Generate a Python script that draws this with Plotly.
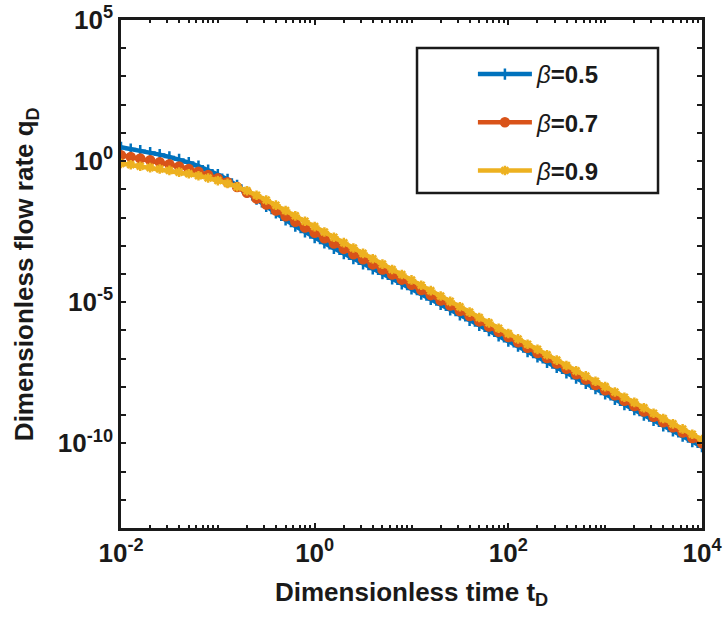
import plotly.graph_objects as go

# Dimensionless time t_D (~0.1 decade spacing)
t_D = [
    1.00e-2, 1.26e-2, 1.58e-2, 2.00e-2, 2.51e-2, 3.16e-2, 3.98e-2, 5.01e-2, 6.31e-2, 7.94e-2,
    1.00e-1, 1.26e-1, 1.58e-1, 2.00e-1, 2.51e-1, 3.16e-1, 3.98e-1, 5.01e-1, 6.31e-1, 7.94e-1,
    1.00e0, 1.26e0, 1.58e0, 2.00e0, 2.51e0, 3.16e0, 3.98e0, 5.01e0, 6.31e0, 7.94e0,
    1.00e1, 1.26e1, 1.58e1, 2.00e1, 2.51e1, 3.16e1, 3.98e1, 5.01e1, 6.31e1, 7.94e1,
    1.00e2, 1.26e2, 1.58e2, 2.00e2, 2.51e2, 3.16e2, 3.98e2, 5.01e2, 6.31e2, 7.94e2,
    1.00e3, 1.26e3, 1.58e3, 2.00e3, 2.51e3, 3.16e3, 3.98e3, 5.01e3, 6.31e3, 7.94e3,
    1.00e4,
]

q_beta05 = [
    3.09e0, 2.69e0, 2.34e0, 2.00e0, 1.70e0, 1.41e0, 1.15e0, 8.91e-1, 6.61e-1, 4.79e-1,
    3.31e-1, 2.24e-1, 1.38e-1, 7.94e-2, 4.47e-2, 2.51e-2, 1.45e-2, 8.32e-3, 5.01e-3, 3.09e-3,
    1.95e-3, 1.26e-3, 8.13e-4, 5.25e-4, 3.47e-4, 2.29e-4, 1.51e-4, 1.02e-4, 6.76e-5, 4.47e-5,
    2.95e-5, 1.95e-5, 1.26e-5, 8.32e-6, 5.37e-6, 3.55e-6, 2.29e-6, 1.51e-6, 9.77e-7, 6.46e-7,
    4.17e-7, 2.75e-7, 1.78e-7, 1.15e-7, 7.41e-8, 4.90e-8, 3.16e-8, 2.04e-8, 1.32e-8, 8.71e-9,
    5.62e-9, 3.63e-9, 2.34e-9, 1.55e-9, 1.00e-9, 6.46e-10, 4.17e-10, 2.75e-10, 1.78e-10, 1.15e-10,
    7.59e-11,
]

q_beta07 = [
    1.62e0, 1.41e0, 1.23e0, 1.07e0, 9.12e-1, 7.76e-1, 6.46e-1, 5.25e-1, 4.17e-1, 3.24e-1,
    2.45e-1, 1.78e-1, 1.20e-1, 7.59e-2, 4.68e-2, 2.88e-2, 1.78e-2, 1.12e-2, 7.08e-3, 4.47e-3,
    2.88e-3, 1.86e-3, 1.20e-3, 7.76e-4, 5.01e-4, 3.31e-4, 2.19e-4, 1.45e-4, 9.55e-5, 6.31e-5,
    4.17e-5, 2.69e-5, 1.78e-5, 1.15e-5, 7.59e-6, 4.90e-6, 3.24e-6, 2.09e-6, 1.38e-6, 8.91e-7,
    5.89e-7, 3.80e-7, 2.45e-7, 1.58e-7, 1.05e-7, 6.76e-8, 4.37e-8, 2.82e-8, 1.82e-8, 1.17e-8,
    7.59e-9, 5.01e-9, 3.24e-9, 2.09e-9, 1.35e-9, 8.71e-10, 5.62e-10, 3.72e-10, 2.40e-10, 1.55e-10,
    1.00e-10,
]

q_beta09 = [
    8.32e-1, 7.41e-1, 6.61e-1, 5.89e-1, 5.25e-1, 4.68e-1, 4.07e-1, 3.55e-1, 3.02e-1, 2.51e-1,
    2.04e-1, 1.62e-1, 1.23e-1, 8.91e-2, 6.17e-2, 4.17e-2, 2.75e-2, 1.78e-2, 1.15e-2, 7.41e-3,
    4.79e-3, 3.09e-3, 2.00e-3, 1.29e-3, 8.32e-4, 5.37e-4, 3.47e-4, 2.24e-4, 1.45e-4, 9.55e-5,
    6.17e-5, 3.98e-5, 2.57e-5, 1.66e-5, 1.07e-5, 6.92e-6, 4.47e-6, 2.88e-6, 1.86e-6, 1.20e-6,
    7.76e-7, 5.01e-7, 3.24e-7, 2.14e-7, 1.38e-7, 8.91e-8, 5.75e-8, 3.72e-8, 2.45e-8, 1.58e-8,
    1.02e-8, 6.61e-9, 4.27e-9, 2.82e-9, 1.82e-9, 1.17e-9, 7.59e-10, 4.90e-10, 3.24e-10, 2.09e-10,
    1.35e-10,
]

BETA = "<span style='font-weight:normal'><i>β</i></span>"
series_names = [BETA + "=0.5", BETA + "=0.7", BETA + "=0.9"]
series_values = [q_beta05, q_beta07, q_beta09]
series_colors = ["#0072BD", "#D95319", "#EDB120"]
series_symbols = ["cross-thin-open", "circle", "asterisk-open"]

x_tick_vals = [1e-2, 1e0, 1e2, 1e4]
x_tick_text = ["10<sup>-2</sup>", "10<sup>0</sup>", "10<sup>2</sup>", "10<sup>4</sup>"]
y_tick_vals = [1e-10, 1e-5, 1e0, 1e5]
y_tick_text = ["10<sup>-10</sup>", "10<sup>-5</sup>", "10<sup>0</sup>", "10<sup>5</sup>"]
y_minor_vals = [10.0 ** k for k in range(-13, 6)]

FONT = "Liberation Sans, Arial, sans-serif"
INK = "#1a1a1a"

fig = go.Figure()
for i, (name, vals, col, sym) in enumerate(zip(series_names, series_values, series_colors, series_symbols)):
    fig.add_trace(go.Scatter(
        x=t_D, y=vals, name=name, mode="lines+markers",
        line=dict(color=col, width=4.5),
        marker=dict(symbol=sym, size=8, color=col, line=dict(color=col, width=2.5)),
        legendgroup=f"g{i}",
    ))

axis_common = dict(
    type="log", showgrid=False, zeroline=False, automargin=False,
    showline=True, linecolor=INK, linewidth=2.5, mirror="ticks",
    ticks="inside", ticklen=5, tickwidth=2, tickcolor=INK,
    tickfont=dict(family=FONT, size=26, color=INK, weight="bold"),
)

fig.update_layout(
    width=723, height=620,
    margin=dict(l=121, r=21, t=20, b=92),
    paper_bgcolor="white", plot_bgcolor="white",
    font=dict(family=FONT, color=INK),
    xaxis=dict(
        **axis_common, range=[-2, 4], tickmode="array",
        tickvals=x_tick_vals, ticktext=x_tick_text,
        minor=dict(dtick="D1", ticks="inside", ticklen=3, tickwidth=1.5, tickcolor=INK),
    ),
    yaxis=dict(
        **axis_common, range=[-13, 5], tickmode="array",
        tickvals=y_tick_vals, ticktext=y_tick_text,
        minor=dict(tickmode="array", tickvals=y_minor_vals, ticks="inside",
                   ticklen=5, tickwidth=2, tickcolor=INK),
    ),
    showlegend=True,
    legend=dict(
        x=0.6057, y=0.937, xanchor="left", yanchor="top",
        bgcolor="rgba(0,0,0,0)", borderwidth=0,
        font=dict(family=FONT, size=24, color=INK, weight="bold"),
        itemwidth=54, tracegroupgap=14,
    ),
    shapes=[dict(type="rect", xref="paper", yref="paper",
                 x0=0.5095, x1=0.9243, y0=0.6594, y1=0.9449,
                 line=dict(color=INK, width=2.5), fillcolor="white", layer="below")],
    annotations=[
        dict(text="<b>Dimensionless time t<sub>D</sub></b>", xref="paper", yref="paper",
             x=0.5, y=-0.093, xanchor="center", yanchor="top", showarrow=False,
             font=dict(family=FONT, size=26, color=INK)),
        dict(text="<b>Dimensionless flow rate q<sub>D</sub></b>", xref="paper", yref="paper",
             x=-0.165, y=0.5, xanchor="center", yanchor="middle", textangle=-90, showarrow=False,
             font=dict(family=FONT, size=26, color=INK)),
    ],
)

fig.write_html("out.html")
